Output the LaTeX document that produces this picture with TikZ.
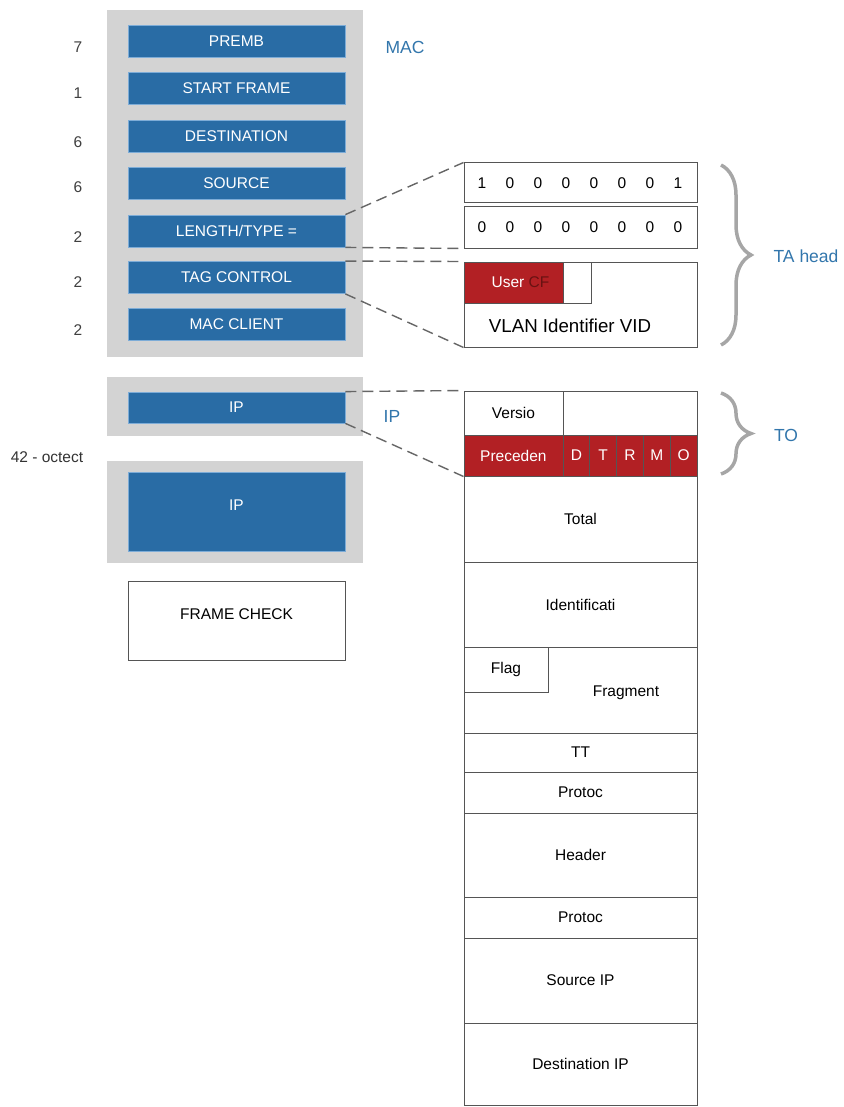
\documentclass[tikz,border=0pt]{standalone}
\usepackage{fontspec}
\setmainfont{Liberation Sans}
\usetikzlibrary{decorations.pathreplacing}
\definecolor{macblue}{RGB}{41,108,165}
\definecolor{edgeblue}{RGB}{125,172,215}
\definecolor{bggray}{RGB}{211,211,211}
\definecolor{hdrred}{RGB}{178,32,36}
\definecolor{darkred}{RGB}{105,18,18}
\definecolor{lblblue}{RGB}{50,118,172}
\definecolor{linegray}{RGB}{85,85,85}

\begin{document}
\begin{tikzpicture}
[x=1pt,y=-1pt,every node/.style={font=\fontsize{15.5}{17}\selectfont,inner sep=0pt},
 field/.style={fill=macblue,draw=edgeblue,line width=.8pt,text=white,minimum width=217pt,minimum height=32pt},
 bgbox/.style={fill=bggray,minimum width=256pt},
 cell/.style={draw=linegray,fill=white,line width=1pt,minimum width=233pt},
 redcell/.style={draw=linegray,fill=hdrred,text=white,line width=.8pt,minimum height=41pt},
 link/.style={draw=black!60,dash pattern=on 11pt off 6pt,line width=1.4pt},
 curly/.style={draw=black!35,line width=3.5pt,decorate,decoration={brace,amplitude=30pt}},
 lbl/.style={text=lblblue,font=\fontsize{17.5}{19}\selectfont}]
\useasboundingbox (0,0) rectangle (843,1107);
\fill[white] (0,0) rectangle (843,1107);

% frame on the left
\node[bgbox,minimum height=347pt] (macbg) at (235,183.5) {};
\node[bgbox,minimum height=59pt] (ipbg) at (235,406.5) {};
\node[bgbox,minimum height=102pt] (databg) at (235,512) {};
\node[field] (premb) at (236.5,41.5) {PREMB};
\node[field] (sfd) at (236.5,88.5) {START FRAME};
\node[field] (dst) at (236.5,136.5) {DESTINATION};
\node[field] (src) at (236.5,183.5) {SOURCE};
\node[field] (lentype) at (236.5,231) {LENGTH/TYPE =};
\node[field] (tagctl) at (236.5,277.5) {TAG CONTROL};
\node[field] (client) at (236.5,324.5) {MAC CLIENT};
\node[field,minimum height=31pt] (iphdr) at (236.5,407.5) {IP};
\node[field,minimum height=79pt] (ipdata) at (236.5,511.5) {};
\node[text=white] (ipdatatxt) at ([yshift=6pt]ipdata.center) {IP};
\node[draw=linegray,line width=1pt,minimum width=217pt,minimum height=79pt] (fcs) at (236.5,620.5) {};
\node (fcstxt) at ([yshift=6pt]fcs.center) {FRAME CHECK};
\foreach \n/\y in {7/47,1/93,6/142,6/187,2/237,2/282,2/330}
\node[text=black!75] (cnt\y) at (78,\y) {\n};
\node[text=black!80] (octets) at (47,457) {42 - octect};
\node[lbl] (maclbl) at (405,47) {MAC};
\node[lbl] (iplbl) at (392,416) {IP};

% tag header
\node[cell,minimum height=40pt] (bits1) at (580.5,183) {};
\node[cell,minimum height=41pt] (bits2) at (580.5,227.5) {};
\foreach \b [count=\i] in {1,0,0,0,0,0,0,1}
\node (hi\i) at (454+28*\i,183) {\b};
\foreach \i in {1,...,8}
\node (lo\i) at (454+28*\i,227.5) {0};
\node[cell,minimum height=85pt] (tagbox) at (580.5,304.5) {};
\node[redcell,minimum width=99pt,anchor=north west] (pcp) at (tagbox.north west) {\hspace{14pt}User \textcolor{darkred}{CF}};
\node[draw=linegray,fill=white,line width=.8pt,minimum width=28pt,minimum height=41pt,anchor=north west] (cfi) at (pcp.north east) {};
\node[font=\fontsize{18.7}{21}\selectfont] (vid) at (570,326) {VLAN Identifier VID};
\draw[link] (lentype.north east) -- (bits1.north west);
\draw[link] (lentype.south east) -- (bits2.south west);
\draw[link] (tagctl.north east) -- (tagbox.north west);
\draw[link] (tagctl.south east) -- (tagbox.south west);
\draw[curly] (721,165) -- (721,345);
\node[lbl] (tahead) at (806,256) {TA head};

% ip header
\node[cell,minimum height=85pt] (ipbox) at (580.5,433.5) {};
\node[draw=linegray,line width=1pt,minimum width=99pt,minimum height=44pt,anchor=north west] (ver) at (ipbox.north west) {Versio};
\node[redcell,minimum width=99pt,anchor=south west] (prec) at (ipbox.south west) {Preceden};
\foreach \l [count=\i] in {D,T,R,M,O}
\node[redcell,minimum width=26.8pt] (tos\i) at ({549.6+26.8*\i},455.5) {\l};
\draw[link] (iphdr.north east) -- (ipbox.north west);
\draw[link] (iphdr.south east) -- (ipbox.south west);
\draw[curly] (721,393) -- (721,474);
\node[lbl] (tolbl) at (786,435) {TO};
\foreach \nm/\y/\h/\txt in {total/519/86/Total,ident/604.5/85/Identificati,ttl/752.5/39/TT,proto/792.5/41/Protoc,hdrsum/855/84/Header,proto2/917.5/41/Protoc,srcip/980.5/85/Source IP,dstip/1064/82/Destination IP}
\node[cell,minimum height=\h pt] (\nm) at (580.5,\y) {\txt};
\node[cell,minimum height=86pt] (frag) at (580.5,690) {};
\node (fragtxt) at (626,693) {Fragment};
\node[draw=linegray,line width=1pt,fill=white,minimum width=84pt,minimum height=45pt,anchor=north west] (flag) at (frag.north west) {Flag};
\end{tikzpicture}
\end{document}
